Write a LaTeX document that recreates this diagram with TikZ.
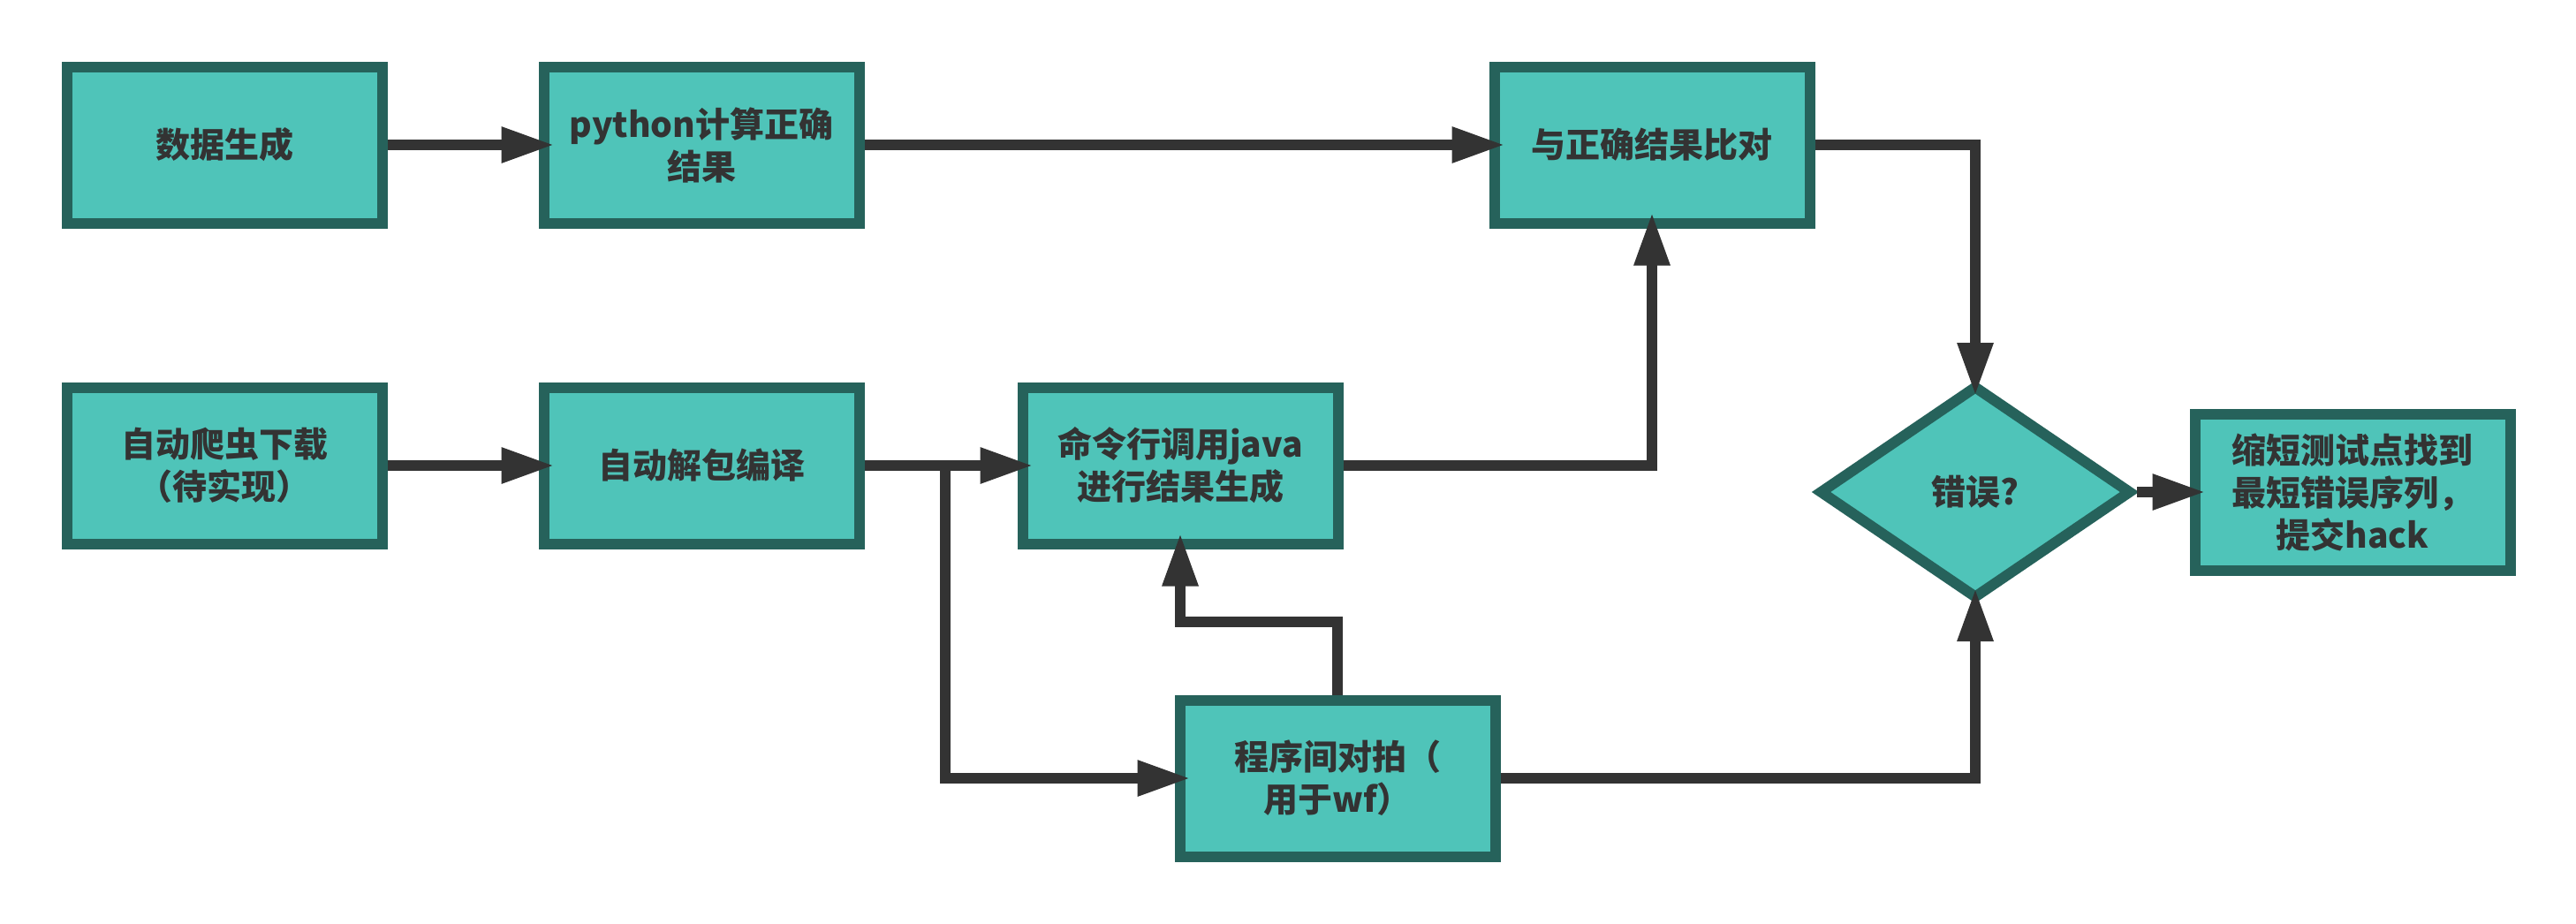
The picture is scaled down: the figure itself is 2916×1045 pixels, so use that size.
\documentclass[tikz,border=0pt]{standalone}
\usepackage{fontspec}
\newfontfamily\cjk{Noto Sans CJK SC}
\usetikzlibrary{arrows.meta,shapes.geometric}
\definecolor{boxfill}{RGB}{79,196,185}
\definecolor{boxedge}{RGB}{38,98,91}
\definecolor{inkgray}{RGB}{51,51,51}
\begin{document}
\begin{tikzpicture}[x=1pt,y=-1pt,
  flowbox/.style={rectangle, draw=boxedge, fill=boxfill, line width=12pt,
    minimum width=357pt, minimum height=177pt, inner sep=0pt, align=center,
    text=inkgray, font=\cjk\bfseries\fontsize{39}{48}\selectfont},
  decision/.style={diamond, draw=boxedge, fill=boxfill, line width=12pt,
    minimum width=354pt, minimum height=242pt, inner sep=0pt, align=center,
    text=inkgray, font=\cjk\bfseries\fontsize{39}{48}\selectfont},
  flowarrow/.style={draw=inkgray, line width=12pt,
    -{Triangle[length=60pt,width=38pt]}, shorten >=-18pt},
  flowline/.style={draw=inkgray, line width=12pt}]
\useasboundingbox (0,0) rectangle (2916,1045);

\node[flowbox] (gen) at (254,164) {数据生成};
\node[flowbox] (py) at (794,164) {python计算正确\\结果};
\node[flowbox] (cmp) at (1870,164) {与正确结果比对};
\node[flowbox] (crawl) at (254,527) {自动爬虫下载\\（待实现）};
\node[flowbox] (unpack) at (794,527) {自动解包编译};
\node[flowbox] (java) at (1336,527) {命令行调用java\\进行结果生成};
\node[flowbox] (duipai) at (1514,881) {程序间对拍（\\用于wf）};
\node[decision] (err) at (2236,557) {错误?};
\node[flowbox] (hack) at (2663,557) {缩短测试点找到\\最短错误序列，\\提交hack};

\coordinate (branch) at (1070,527);
\coordinate (gfturn) at (1514,704);

\draw[flowarrow] (gen) -- (py);
\draw[flowarrow] (py) -- (cmp);
\draw[flowarrow] (crawl) -- (unpack);
\draw[flowarrow] (unpack) -- (java);
\draw[flowarrow] (branch) |- (duipai.west);
\draw[flowarrow] (duipai.north) -- (gfturn) -| (java.south);
\draw[flowarrow] (java.east) -| (cmp.south);
\draw[flowarrow] (cmp.east) -| (err.north);
\draw[flowarrow] (duipai.east) -| (err.south);
\draw[flowarrow] (err.east) -- (hack.west);
\end{tikzpicture}
\end{document}
